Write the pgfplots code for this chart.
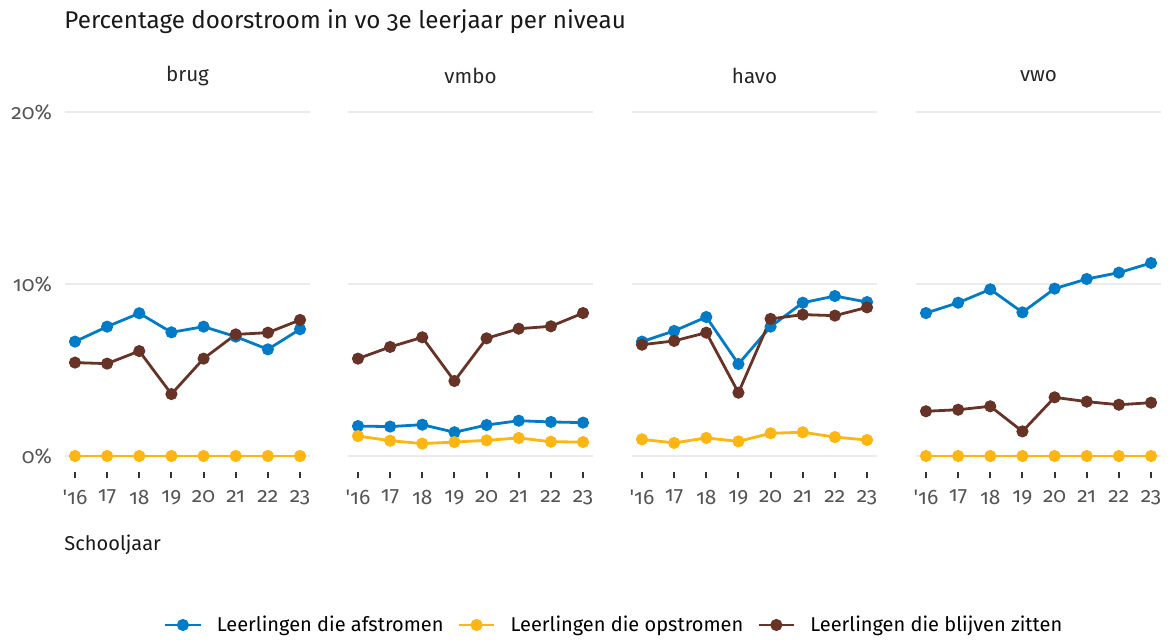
\documentclass[border=0pt]{standalone}
\usepackage{fontspec}
\setmainfont{Fira Sans}[Numbers=OldStyle]
\usepackage{pgfplots}
\usepackage{pgfplotstable}
\pgfplotsset{compat=1.18}

\definecolor{afblue}{HTML}{007BC7}
\definecolor{opyellow}{HTML}{FFB612}
\definecolor{blbrown}{HTML}{673327}
\definecolor{gridgray}{HTML}{EBEBEB}
\definecolor{labgray}{HTML}{555555}

% percentages per schooljaar
\pgfplotstableread{
year af op bl
2016 6.65 0 5.43
2017 7.52 0 5.37
2018 8.30 0 6.10
2019 7.19 0 3.60
2020 7.52 0 5.66
2021 6.94 0 7.07
2022 6.20 0 7.17
2023 7.37 0 7.91
}\brug
\pgfplotstableread{
year af op bl
2016 1.74 1.16 5.66
2017 1.71 0.89 6.34
2018 1.82 0.72 6.90
2019 1.38 0.81 4.36
2020 1.80 0.91 6.84
2021 2.05 1.05 7.40
2022 1.98 0.83 7.54
2023 1.94 0.81 8.31
}\vmbo
\pgfplotstableread{
year af op bl
2016 6.65 0.97 6.47
2017 7.27 0.76 6.69
2018 8.08 1.05 7.17
2019 5.35 0.85 3.68
2020 7.52 1.32 7.97
2021 8.91 1.38 8.22
2022 9.30 1.10 8.16
2023 8.95 0.93 8.64
}\havo
\pgfplotstableread{
year af op bl
2016 8.31 0 2.60
2017 8.91 0 2.69
2018 9.69 0 2.89
2019 8.35 0 1.43
2020 9.73 0 3.41
2021 10.29 0 3.16
2022 10.66 0 2.98
2023 11.22 0 3.10
}\vwo

\pgfplotsset{
  facet/.style={
    scale only axis, width=122.5pt, height=180pt,
    anchor=south west, clip=false,
    xmin=2015.69, xmax=2023.31,
    ymin=-0.93, ymax=20,
    xtick={2016,...,2023},
    xticklabels={{\textquotesingle16},17,18,19,20,21,22,23},
    ytick={0,10,20},
    yticklabels={},
    axis line style={draw=none},
    ymajorgrids, grid style={gridgray, line width=1.2pt},
    xtick pos=bottom, tick align=outside, major tick length=3pt,
    xtick style={draw=black!80, line width=1pt},
    ytick style={draw=none},
    ticklabel style={font=\fontsize{10.5}{12}\selectfont, text=labgray},
    xticklabel style={yshift=-2.5pt},
    title style={at={(0.5,1)}, anchor=center, yshift=12pt,
      font=\fontsize{10.3}{12}\selectfont, text=black!85},
    every axis plot/.append style={line width=1.4pt, mark=*, mark size=2.3pt},
  },
}

\begin{document}
\begin{tikzpicture}
\useasboundingbox (0,0) rectangle (584pt,320pt);

\node[anchor=west, font=\fontsize{12.1}{14}\selectfont, text=black!90] at (28.7pt,309pt)
  {Percentage doorstroom in vo 3e leerjaar per niveau};

\begin{axis}[facet, at={(32.5pt,84pt)}, title={brug},
    yticklabels={0\%,10\%,20\%},
    legend image code/.code={
      \draw[mark repeat=2, mark phase=2] plot coordinates {(0cm,0cm) (0.31cm,0cm) (0.62cm,0cm)};},
    legend style={at={(2.245,-0.425)}, anchor=center, draw=none, fill=none,
      legend columns=3, font=\fontsize{10}{12}\selectfont,
      /tikz/every odd column/.append style={column sep=5.5pt},
      /tikz/every even column/.append style={column sep=5pt}},
    legend cell align=left]
  \addplot[afblue] table[x=year, y=af] {\brug};
  \addplot[opyellow] table[x=year, y=op] {\brug};
  \addplot[blbrown] table[x=year, y=bl] {\brug};
  \legend{Leerlingen die afstromen, Leerlingen die opstromen, Leerlingen die blijven zitten}
\end{axis}

\begin{axis}[facet, at={(174pt,84pt)}, title={vmbo}]
  \addplot[afblue] table[x=year, y=af] {\vmbo};
  \addplot[opyellow] table[x=year, y=op] {\vmbo};
  \addplot[blbrown] table[x=year, y=bl] {\vmbo};
\end{axis}

\begin{axis}[facet, at={(316pt,84pt)}, title={havo}]
  \addplot[afblue] table[x=year, y=af] {\havo};
  \addplot[opyellow] table[x=year, y=op] {\havo};
  \addplot[blbrown] table[x=year, y=bl] {\havo};
\end{axis}

\begin{axis}[facet, at={(458pt,84pt)}, title={vwo}]
  \addplot[afblue] table[x=year, y=af] {\vwo};
  \addplot[opyellow] table[x=year, y=op] {\vwo};
  \addplot[blbrown] table[x=year, y=bl] {\vwo};
\end{axis}

\node[anchor=west, font=\fontsize{10}{12}\selectfont, text=black!90] at (28.7pt,47.5pt) {Schooljaar};
\end{tikzpicture}
\end{document}
